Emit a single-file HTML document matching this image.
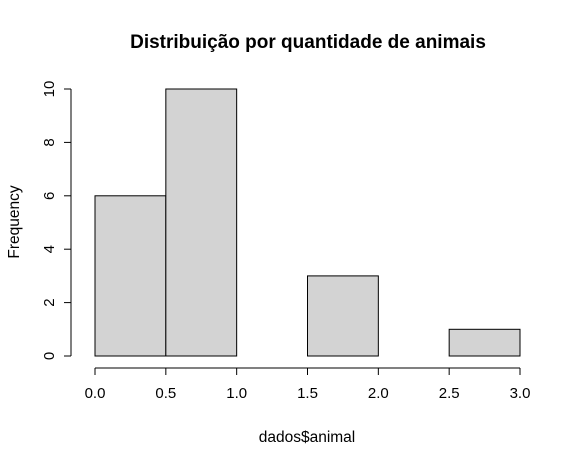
<!DOCTYPE html>
<html><head><meta charset="utf-8"><style>body{margin:0;background:#fff}svg{display:block;font-family:"Liberation Sans",Arial,sans-serif}</style></head>
<body>
<svg id="c" width="578" height="465">
<text x="308" y="48" text-anchor="middle" font-size="19" font-weight="bold">Distribuição por quantidade de animais</text>
<text x="307" y="442" text-anchor="middle" font-size="15.5">dados$animal</text>
<text x="19" y="222" text-anchor="middle" font-size="15.5" transform="rotate(-90 19 222)">Frequency</text>
<g id="bars"></g><g id="axes"></g>
</svg>
<script>
const breaks=[0,0.5,1,1.5,2,2.5,3];
const counts=[6,10,0,3,0,1];
const xTicks=["0.0","0.5","1.0","1.5","2.0","2.5","3.0"];
const yTicks=[0,2,4,6,8,10];
const NS="http://www.w3.org/2000/svg";
const xs=v=>95+v*(425/3);
const ys=v=>356-v*26.7;
function mk(t,a,p){const e=document.createElementNS(NS,t);for(const k in a)e.setAttribute(k,a[k]);p.appendChild(e);return e;}
const bars=document.getElementById('bars'),axes=document.getElementById('axes');
counts.forEach((c,i)=>{
 const r=mk('rect',{x:xs(breaks[i]),y:ys(c),width:xs(breaks[i+1])-xs(breaks[i]),height:ys(0)-ys(c),fill:'#d3d3d3',stroke:'#000','stroke-width':1},bars);
 
 
});
const xa=mk('line',{x1:xs(0),x2:xs(3),y1:368,y2:368,stroke:'#000'},axes);


xTicks.forEach((t,i)=>{
 const v=parseFloat(t);
 mk('line',{x1:xs(v),x2:xs(v),y1:368,y2:375,stroke:'#000'},axes);
 const tx=mk('text',{x:xs(v),y:398,'text-anchor':'middle','font-size':15},axes);tx.textContent=t;
 
 
});
const ya=mk('line',{x1:71,x2:71,y1:ys(0),y2:ys(10),stroke:'#000'},axes);


yTicks.forEach(v=>{
 mk('line',{x1:64,x2:71,y1:ys(v),y2:ys(v),stroke:'#000'},axes);
 const tx=mk('text',{x:54,y:ys(v),'text-anchor':'middle','font-size':15,transform:`rotate(-90 54 ${ys(v)})`},axes);tx.textContent=v;
 
 
});
</script>
</body></html>
